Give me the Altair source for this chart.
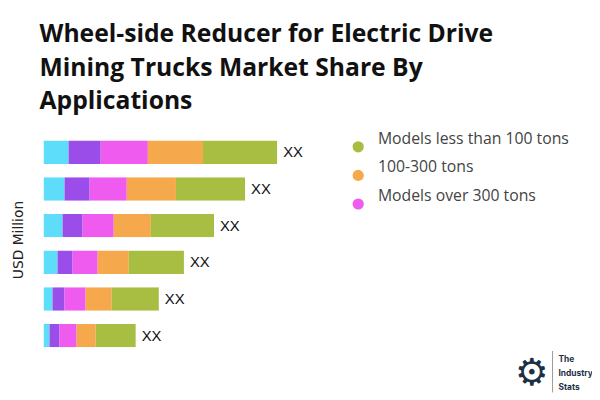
import altair as alt
import pandas as pd

rows = ["R1", "R2", "R3", "R4", "R5", "R6"]
segments = ["Segment A", "Segment B", "Models over 300 tons", "100-300 tons", "Models less than 100 tons"]
colors = ["#5DDDF9", "#9B4DEA", "#EE5BEE", "#F5A94C", "#A7BE42"]
seg_a = [25, 21, 19, 14, 9, 6]
seg_b = [32, 25, 20, 15, 12, 10]
over300 = [47, 37, 31, 25, 21, 17]
mid = [55, 49, 37, 31, 26, 19]
less100 = [74, 69, 63, 55, 47, 40]
bar_labels = ["XX"] * 6
logo_lines = ["The", "Industry", "Stats"]

series = [seg_a, seg_b, over300, mid, less100]
recs = []
for si, (name, vals) in enumerate(zip(segments, series)):
    for ri, r in enumerate(rows):
        recs.append({"row": r, "seg": name, "order": si, "value": vals[ri]})
df = pd.DataFrame(recs)

totals = pd.DataFrame({
    "row": rows,
    "total": [sum(s[i] for s in series) for i in range(len(rows))],
    "label": bar_labels,
})

yenc = alt.Y("row:N", sort=rows,
             scale=alt.Scale(paddingInner=0.36, paddingOuter=0.18),
             axis=alt.Axis(title="USD Million", labels=False, ticks=False, domain=False,
                           titleFont="DejaVu Sans", titleFontSize=14, titleFontWeight="normal",
                           titleColor="#222", titleX=-18, titleY=107))

xscale = alt.Scale(domain=[0, 295])

bars = alt.Chart(df).mark_bar(
    cornerRadiusTopRight=alt.expr("datum.seg == 'Models less than 100 tons' ? 3 : 0"),
    cornerRadiusBottomRight=alt.expr("datum.seg == 'Models less than 100 tons' ? 3 : 0"),
).encode(
    x=alt.X("value:Q", stack="zero", scale=xscale, axis=None),
    y=yenc,
    color=alt.Color("seg:N", scale=alt.Scale(domain=segments, range=colors),
                    legend=alt.Legend(
                        title=None, orient="none", legendX=311, legendY=5,
                        values=["Models less than 100 tons", "100-300 tons", "Models over 300 tons"],
                        symbolType="circle", symbolSize=130, labelFont="Open Sans",
                        labelFontSize=16, labelColor="#444", rowPadding=7,
                        labelOffset=12, labelLimit=400, labelBaseline="bottom",
                        symbolStrokeWidth=0)),
    order=alt.Order("order:Q"),
)

text = alt.Chart(totals).mark_text(align="left", dx=6, fontSize=15, font="Liberation Sans",
                                   color="#111", baseline="middle").encode(
    x=alt.X("total:Q", scale=xscale),
    y=alt.Y("row:N", sort=rows),
    text="label:N",
)

# logo (decorative)
logo_df = pd.DataFrame({"t": logo_lines, "i": [0, 1, 2]})
logo_text = alt.Chart(logo_df).mark_text(
    align="left", baseline="middle", font="Inter", fontSize=8.5, fontWeight="bold", color="#1d3146",
    x=522, y=alt.expr("228 + datum.i * 14.5"),
).encode(text="t:N")

logo_gear = alt.Chart(pd.DataFrame({"g": ["\u2699"]})).mark_text(
    align="center", baseline="middle", font="DejaVu Sans", fontSize=38, color="#1d3146",
    x=495, y=243,
).encode(text="g:N")

logo_rule = alt.Chart(pd.DataFrame({"a": [0]})).mark_rule(color="#999", strokeWidth=1).encode(
    x=alt.value(516), y=alt.value(220), y2=alt.value(262)
)

chart = (bars + text + logo_gear + logo_rule + logo_text).properties(
    width=300, height=223,
    title=alt.TitleParams(
        text=["Wheel-side Reducer for Electric Drive", "Mining Trucks Market Share By", "Applications"],
        anchor="start", frame="group", font="Open Sans", fontSize=25, fontWeight="bold",
        color="#111", lineHeight=34, dx=-4, offset=20),
    autosize=alt.AutoSizeParams(type="none"),
    padding={"left": 36, "top": 125, "right": 256, "bottom": 44},
).configure_view(stroke=None)

chart.save("out.html", embed_options={"renderer": "svg", "actions": False})
